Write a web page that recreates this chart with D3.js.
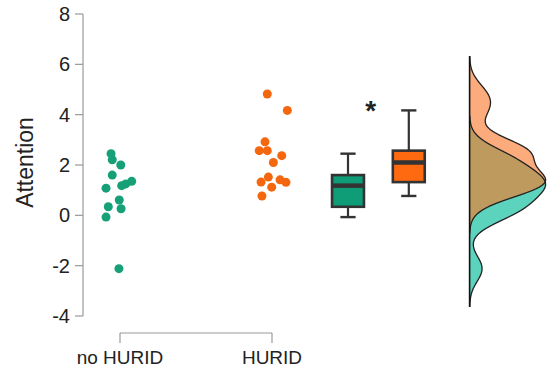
<!DOCTYPE html>
<head>
<meta charset="utf-8">
<title>Attention raincloud</title>
<style>
    body { margin: 0; background: #fff; }
    text { font-family: "Liberation Sans", Arial, sans-serif; fill: #222; }
    .tick-label { font-size: 20px; }
    .group-label { font-size: 19px; }
    .title { font-size: 23px; }
    .axis-line { stroke: #999; stroke-width: 1.2; fill: none; }
</style>
</head>
<body>
<script src="https://cdn.jsdelivr.net/npm/d3@7"></script>
<script>

    // data
    const groups = ["no HURID", "HURID"];
    const yTicks = [-4, -2, 0, 2, 4, 6, 8];

    const noHurid = [2.45, 2.21, 2.0, 1.6, 1.08, 1.18, 1.25, 1.35, 0.61, 0.34, 0.26, -0.07, -2.12];
    const noHuridJitter = [-0.059, -0.051, 0.005, -0.051, -0.092, 0.011, 0.038, 0.077, -0.005, -0.077, 0.007, -0.092, -0.007];

    const hurid = [4.82, 4.17, 2.92, 2.57, 2.57, 2.37, 2.10, 1.52, 1.32, 1.41, 1.31, 1.12, 0.77];
    const huridJitter = [-0.031, 0.101, -0.046, -0.084, -0.031, 0.064, 0.009, -0.024, -0.072, 0.053, 0.092, -0.002, -0.066];

    const pointColors = ["#16a077", "#f4670f"];
    const boxColors = ["#0f9d77", "#ff6a10"];
    const densColors = ["#5cd3bc", "#fcab7c"];
    const overlapColor = "#bf9a5e";

    const width = 550, height = 377;

    const svg = d3.select("body").append("svg")
        .attr("width", width)
        .attr("height", height);

    const x = d3.scaleLinear().domain([1, 2]).range([120, 272]);
    const y = d3.scaleLinear().domain([-4, 8]).range([316, 14]);

    // y axis
    svg.append("line").attr("class", "axis-line")
        .attr("x1", 83).attr("x2", 83)
        .attr("y1", y(8)).attr("y2", y(-4));

    const yt = svg.selectAll(".ytick")
        .data(yTicks)
        .join("g")
        .attr("transform", d => `translate(0,${y(d)})`);
    yt.append("line").attr("class", "axis-line").attr("x1", 75).attr("x2", 83);
    yt.append("text")
        .attr("class", "tick-label")
        .attr("x", 70)
        .attr("dy", "0.35em")
        .attr("text-anchor", "end")
        .text(d => d);

    svg.append("text")
        .attr("class", "title")
        .attr("transform", `translate(33,${y(2.1)}) rotate(-90)`)
        .attr("text-anchor", "middle")
        .text("Attention");

    // x axis
    svg.append("line").attr("class", "axis-line")
        .attr("x1", x(1)).attr("x2", x(2))
        .attr("y1", 333).attr("y2", 333);
    groups.forEach((g, i) => {
        svg.append("line").attr("class", "axis-line")
            .attr("x1", x(i + 1)).attr("x2", x(i + 1))
            .attr("y1", 333).attr("y2", 343);
        svg.append("text")
            .attr("class", "group-label")
            .attr("x", x(i + 1))
            .attr("y", 364)
            .attr("text-anchor", "middle")
            .text(g);
    });

    const series = [
        {values: noHurid, jitter: noHuridJitter},
        {values: hurid, jitter: huridJitter}
    ];

    // jittered points
    series.forEach((s, i) => {
        svg.append("g").selectAll("circle")
            .data(s.values)
            .join("circle")
            .attr("cx", (d, j) => x(i + 1 + s.jitter[j]))
            .attr("cy", d => y(d))
            .attr("r", 4.5)
            .attr("fill", pointColors[i]);
    });

    // box plots
    const boxPos = [2.5, 2.9], boxHalf = 0.105, capHalf = 0.05;
    series.forEach((s, i) => {
        const v = s.values.slice().sort(d3.ascending);
        const q1 = d3.quantile(v, 0.25), med = d3.quantile(v, 0.5), q3 = d3.quantile(v, 0.75);
        const iqr = q3 - q1;
        const lo = d3.min(v.filter(d => d >= q1 - 1.5 * iqr));
        const hi = d3.max(v.filter(d => d <= q3 + 1.5 * iqr));
        const c = boxPos[i];
        const g = svg.append("g").attr("stroke", "#333");
        g.append("line").attr("x1", x(c)).attr("x2", x(c)).attr("y1", y(hi)).attr("y2", y(q3)).attr("stroke-width", 2.2);
        g.append("line").attr("x1", x(c)).attr("x2", x(c)).attr("y1", y(q1)).attr("y2", y(lo)).attr("stroke-width", 2.2);
        g.append("line").attr("x1", x(c - capHalf)).attr("x2", x(c + capHalf)).attr("y1", y(hi)).attr("y2", y(hi)).attr("stroke-width", 2.4);
        g.append("line").attr("x1", x(c - capHalf)).attr("x2", x(c + capHalf)).attr("y1", y(lo)).attr("y2", y(lo)).attr("stroke-width", 2.4);
        g.append("rect")
            .attr("x", x(c - boxHalf)).attr("width", x(c + boxHalf) - x(c - boxHalf))
            .attr("y", y(q3)).attr("height", y(q1) - y(q3))
            .attr("fill", boxColors[i]).attr("stroke-width", 2.6);
        g.append("line").attr("x1", x(c - boxHalf)).attr("x2", x(c + boxHalf)).attr("y1", y(med)).attr("y2", y(med)).attr("stroke-width", 4.5);
    });

    svg.append("text")
        .attr("x", x(2.65))
        .attr("y", y(3.8))
        .attr("text-anchor", "middle")
        .attr("font-size", 28)
        .attr("font-weight", "bold")
        .text("*");

    // densities (gaussian kernel, bw.nrd0, cut = 3)
    function bwNrd0(v) {
        const s = d3.deviation(v);
        const sorted = v.slice().sort(d3.ascending);
        const iqr = d3.quantile(sorted, 0.75) - d3.quantile(sorted, 0.25);
        return 0.9 * Math.min(s, iqr / 1.34) * Math.pow(v.length, -0.2);
    }
    function kde(v) {
        const bw = bwNrd0(v);
        const lo = d3.min(v) - 3 * bw, hi = d3.max(v) + 3 * bw;
        return {
            lo, hi,
            f: t => (t < lo || t > hi) ? 0 : d3.mean(v, d => Math.exp(-0.5 * ((t - d) / bw) ** 2)) / (bw * Math.sqrt(2 * Math.PI))
        };
    }
    const dens = series.map(s => kde(s.values));
    const base = 3.3, maxW = 0.5;
    const dLo = d3.min(dens, d => d.lo), dHi = d3.max(dens, d => d.hi);
    const grid = d3.range(0, 400).map(k => dLo + (dHi - dLo) * k / 399);
    const peaks = dens.map(d => d3.max(grid, t => d.f(t)));
    const w = (i, t) => dens[i].f(t) / peaks[i] * maxW;

    const area = fn => d3.area()
        .curve(d3.curveBasis)
        .y(t => y(t))
        .x0(x(base))
        .x1(t => x(base + fn(t)));

    const gridFor = i => grid.filter(t => t >= dens[i].lo && t <= dens[i].hi);

    svg.append("path").datum(gridFor(1)).attr("d", area(t => w(1, t))).attr("fill", densColors[1]);
    svg.append("path").datum(gridFor(0)).attr("d", area(t => w(0, t))).attr("fill", densColors[0]);
    svg.append("path").datum(grid).attr("d", area(t => Math.min(w(0, t), w(1, t)))).attr("fill", overlapColor);

    const edge = fn => d3.line().curve(d3.curveBasis).y(t => y(t)).x(t => x(base + fn(t)));
    svg.append("path").datum(gridFor(0)).attr("d", edge(t => w(0, t)))
        .attr("fill", "none").attr("stroke", "#222").attr("stroke-width", 1.3);
    svg.append("path").datum(gridFor(1)).attr("d", edge(t => w(1, t)))
        .attr("fill", "none").attr("stroke", "#222").attr("stroke-width", 1.3);

    svg.append("line")
        .attr("x1", x(base)).attr("x2", x(base))
        .attr("y1", y(dHi)).attr("y2", y(dLo))
        .attr("stroke", "#111").attr("stroke-width", 1.6);

</script>
</body>
